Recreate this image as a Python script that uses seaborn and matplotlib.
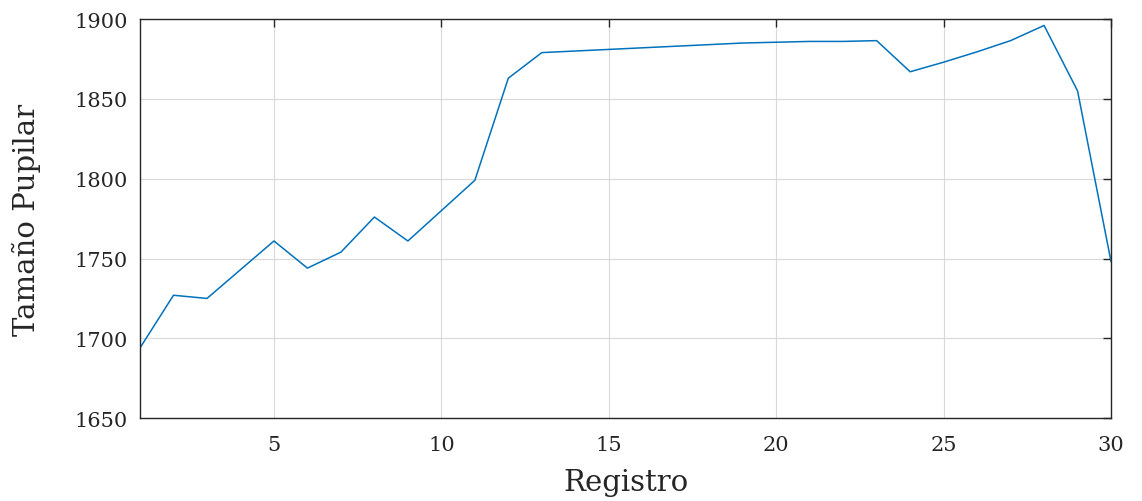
import seaborn as sns
import matplotlib.pyplot as plt
import pandas as pd

registro = list(range(1, 31))
tamano = [1694, 1727, 1725, 1743, 1761, 1744, 1754, 1776, 1761, 1780,
          1799, 1863, 1879, 1880, 1881, 1882, 1883, 1884, 1885, 1885.5,
          1886, 1886, 1886.5, 1867, 1873, 1879.5, 1886.5, 1896, 1855, 1748]
x_ticks = [5, 10, 15, 20, 25, 30]
y_ticks = [1650, 1700, 1750, 1800, 1850, 1900]

df = pd.DataFrame({"Registro": registro, "Tamaño": tamano})

sns.set_style("whitegrid")
plt.rcParams["font.family"] = ["DejaVu Serif"]

fig, ax = plt.subplots(figsize=(11.42, 5.02), dpi=100)
sns.lineplot(data=df, x="Registro", y="Tamaño", color="#0072BD", linewidth=1.1, ax=ax)

ax.set_xlim(1, 30)
ax.set_ylim(1650, 1900)
ax.set_xticks(x_ticks)
ax.set_yticks(y_ticks)
ax.grid(True, color="#d9d9d9", linewidth=0.8)
for s in ax.spines.values():
    s.set_color("#262626")
    s.set_linewidth(1.0)
ax.tick_params(direction="in", length=6, width=1, color="#262626",
               top=True, right=True, labelsize=15, labelcolor="#262626")
ax.tick_params(axis="x", pad=12)
ax.tick_params(axis="y", pad=9)
ax.set_xlabel("Registro", fontsize=21, color="#262626")
ax.set_ylabel("Tamaño Pupilar", fontsize=21, color="#262626")
ax.xaxis.set_label_coords(0.5, -0.125)
ax.yaxis.set_label_coords(-0.102, 0.5)

fig.subplots_adjust(left=0.1226, right=0.9729, top=0.960, bottom=0.165)
fig.savefig("out.png", dpi=100)
